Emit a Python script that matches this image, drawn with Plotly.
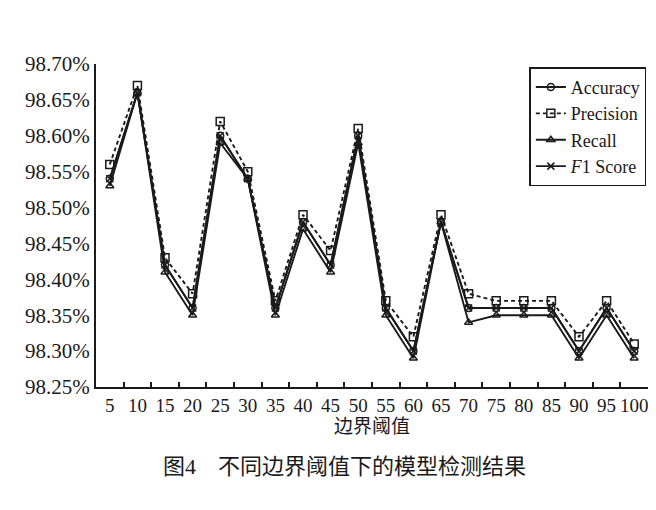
import plotly.graph_objects as go

thresholds = ["5", "10", "15", "20", "25", "30", "35", "40", "45", "50",
              "55", "60", "65", "70", "75", "80", "85", "90", "95", "100"]
accuracy = [98.54, 98.66, 98.42, 98.36, 98.60, 98.54, 98.36, 98.48, 98.42, 98.60,
            98.36, 98.30, 98.48, 98.36, 98.36, 98.36, 98.36, 98.30, 98.36, 98.30]
precision = [98.56, 98.67, 98.43, 98.38, 98.62, 98.55, 98.37, 98.49, 98.44, 98.61,
             98.37, 98.32, 98.49, 98.38, 98.37, 98.37, 98.37, 98.32, 98.37, 98.31]
recall = [98.53, 98.66, 98.41, 98.35, 98.59, 98.54, 98.35, 98.47, 98.41, 98.59,
          98.35, 98.29, 98.48, 98.34, 98.35, 98.35, 98.35, 98.29, 98.35, 98.29]
f1 = [98.54, 98.66, 98.42, 98.36, 98.60, 98.54, 98.36, 98.48, 98.42, 98.60,
      98.36, 98.30, 98.48, 98.36, 98.36, 98.36, 98.36, 98.30, 98.36, 98.30]

FONT = "Liberation Serif, Times New Roman, Noto Sans CJK SC, serif"
INK = "#1a1a1a"

fig = go.Figure()
series = [
    ("Accuracy", accuracy, "circle-open", "solid", 7),
    ("Precision", precision, "square-open", "4px,3px", 8),
    ("Recall", recall, "triangle-up-open", "solid", 7),
    ("<i>F</i>1 Score", f1, "x-thin-open", "solid", 7),
]
for name, vals, sym, dash, size in series:
    fig.add_trace(go.Scatter(
        x=thresholds, y=vals, name=name, mode="lines+markers",
        line=dict(color=INK, width=1.9, dash=dash),
        marker=dict(symbol=sym, size=size, color=INK,
                    line=dict(color=INK, width=1.5)),
    ))

fig.update_layout(
    width=656, height=510,
    paper_bgcolor="white", plot_bgcolor="white",
    margin=dict(l=88, r=16, t=56, b=131),
    font=dict(family=FONT, size=19, color=INK),
    showlegend=True,
    legend=dict(
        x=0.997, y=0.99, xanchor="right", yanchor="top",
        bordercolor=INK, borderwidth=1.5, bgcolor="white",
        font=dict(family=FONT, size=18, color=INK),
        tracegroupgap=0, itemwidth=30,
    ),
    xaxis=dict(
        type="category", range=[-0.5, 19.5],
        showline=True, linecolor=INK, linewidth=2,
        showgrid=False, zeroline=False,
        ticks="inside", ticklen=5, tickwidth=1.5, tickcolor=INK,
        tickson="boundaries", tickangle=0,
        tickfont=dict(family=FONT, size=19, color=INK),
        title=dict(text="边界阈值", font=dict(family=FONT, size=19, color=INK), standoff=0),
    ),
    yaxis=dict(
        range=[98.25, 98.70], dtick=0.05, tick0=98.25,
        tickformat=".2f", ticksuffix="%",
        showline=True, linecolor=INK, linewidth=2,
        showgrid=False, zeroline=False, ticks="",
        tickfont=dict(family=FONT, size=21, color=INK),
    ),
    annotations=[dict(
        text="图4　不同边界阈值下的模型检测结果",
        xref="paper", yref="paper", x=0.45, y=0, yshift=-65,
        xanchor="center", yanchor="top", showarrow=False,
        font=dict(family=FONT, size=22, color=INK),
    )],
)

fig.write_html("out.html")
